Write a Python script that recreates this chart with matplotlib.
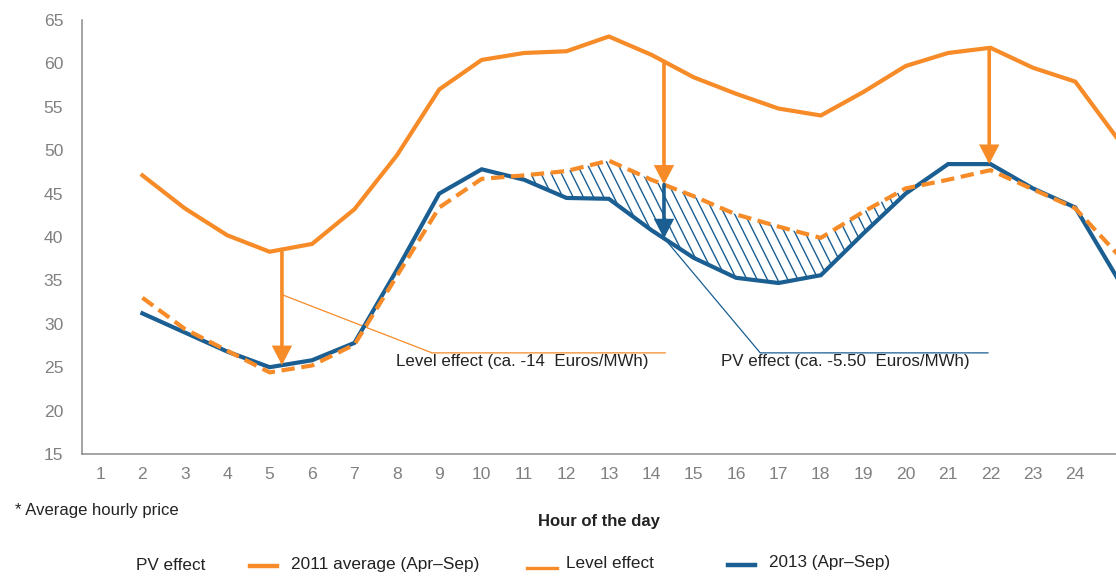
import numpy as np
import matplotlib
matplotlib.use("Agg")
import matplotlib.pyplot as plt
from matplotlib.collections import LineCollection
from matplotlib.transforms import IdentityTransform
from matplotlib.lines import Line2D

plt.rcParams['font.family'] = ['Liberation Sans', 'DejaVu Sans']

# ---------------- data ----------------
hours = np.arange(2, 26)  # hour 25 only continues the lines past the right edge
avg_2011 = [47.1, 43.3, 40.2, 38.3, 39.2, 43.2, 49.4, 57.0, 60.4, 61.2, 61.4, 63.1,
            61.0, 58.4, 56.5, 54.8, 54.0, 56.7, 59.7, 61.2, 61.8, 59.5, 57.9, 51.3]
level_2011 = [33.0, 29.4, 26.9, 24.4, 25.2, 27.6, 35.5, 43.4, 46.7, 47.1, 47.6, 48.8,
              46.6, 44.7, 42.6, 41.2, 39.9, 42.9, 45.6, 46.6, 47.7, 45.5, 43.3, 38.0]
y_2013 = [31.2, 29.0, 26.8, 25.0, 25.8, 27.8, 36.2, 45.0, 47.8, 46.6, 44.5, 44.4,
          40.8, 37.6, 35.3, 34.7, 35.6, 40.4, 45.0, 48.4, 48.4, 45.6, 43.4, 35.2]
x_ticks = list(range(1, 25))
y_ticks = list(range(15, 70, 5))
pv_window = (10, 21)            # hours where the PV effect area is shaded
level_arrow_hours = [5.29, 21.97]
pv_arrow_hour = 14.3

orange = '#F68B28'
blue = '#1A5E92'
gray = '#808080'
txt = '#222222'

hours_a = np.array(hours, float)
a11 = np.array(avg_2011)
l11 = np.array(level_2011)
b13 = np.array(y_2013)

W, H = 1116, 576
fig = plt.figure(figsize=(W / 100, H / 100), dpi=100)
ax = fig.add_axes([82 / W, 1 - 454 / H, (W - 82) / W, (454 - 20) / H])
ax.set_xlim(0.575, 24.96)
ax.set_ylim(15, 65)

for s in ['top', 'right']:
    ax.spines[s].set_visible(False)
for s in ['left', 'bottom']:
    ax.spines[s].set_color('#8a8a8a')
    ax.spines[s].set_linewidth(1.1)
ax.set_xticks(x_ticks)
ax.set_yticks(y_ticks)
ax.tick_params(axis='both', length=0, labelcolor=gray, labelsize=12.6)
ax.tick_params(axis='x', pad=9.5)
ax.tick_params(axis='y', pad=13.5)

# ---------------- PV effect hatched area ----------------
mask = (l11 >= b13) & (hours_a >= pv_window[0]) & (hours_a <= pv_window[1])
poly = ax.fill_between(hours_a, l11, b13, where=mask, interpolate=True,
                       facecolor='none', edgecolor='none', linewidth=0)
clip_path = poly.get_paths()[0]
segs = []
step = 10.2
for c in np.arange(-H, W + H, step):
    segs.append([(c, H), (c + H / 2.0, 0)])
lc = LineCollection(segs, colors=blue, linewidths=1.0, transform=IdentityTransform())
lc.set_clip_path(clip_path, ax.transData)
ax.add_collection(lc, autolim=False)

# ---------------- lines ----------------
ax.plot(hours_a, a11, color=orange, lw=3.0, solid_joinstyle='miter', zorder=3)
ax.plot(hours_a, b13, color=blue, lw=3.0, solid_joinstyle='miter', zorder=3)
ax.plot(hours_a, l11, color=orange, lw=3.0, dashes=(3.2, 1.6), zorder=4)

# ---------------- arrows ----------------
def arrow(x, y0, y1, color, z=5):
    ax.annotate('', xy=(x, y1), xytext=(x, y0),
                arrowprops=dict(arrowstyle='-|>,head_length=0.5,head_width=0.26',
                                color=color, lw=2.6, shrinkA=0, shrinkB=0,
                                mutation_scale=20, joinstyle='miter'),
                zorder=z)

for hx in level_arrow_hours:
    arrow(hx, np.interp(hx, hours_a, a11), np.interp(hx, hours_a, b13), orange)
arrow(pv_arrow_hour, np.interp(pv_arrow_hour, hours_a, a11),
      np.interp(pv_arrow_hour, hours_a, l11), orange)
arrow(pv_arrow_hour, np.interp(pv_arrow_hour, hours_a, l11),
      np.interp(pv_arrow_hour, hours_a, b13), blue)

# ---------------- leader lines & labels ----------------
ax.plot([5.32, 8.83, 14.33], [33.3, 26.65, 26.65], color=orange, lw=0.9, zorder=2)
ax.plot([14.4, 16.57, 21.94], [39.3, 26.65, 26.65], color=blue, lw=0.9, zorder=2)
ax.text(7.98, 25.6, 'Level effect (ca. -14  Euros/MWh)', ha='left', va='center',
        fontsize=12.2, color=txt)
ax.text(15.65, 25.6, 'PV effect (ca. -5.50  Euros/MWh)', ha='left', va='center',
        fontsize=12.2, color=txt)

# ---------------- footnote, axis title ----------------
fig.text(15 / W, 1 - 511 / H, '* Average hourly price', ha='left', va='center',
         fontsize=12, color=txt)
fig.text(599 / W, 1 - 521.5 / H, 'Hour of the day', ha='center', va='center',
         fontsize=12, fontweight='bold', color=txt)

# ---------------- legend ----------------
def fx(x):
    return x / W

def fy(y):
    return 1 - y / H

fig.text(fx(136), fy(565), 'PV effect', ha='left', va='center', fontsize=12.3, color=txt)
fig.add_artist(Line2D([fx(250), fx(277)], [fy(566), fy(566)], color=orange, lw=3.2))
fig.text(fx(291), fy(565), '2011 average (Apr–Sep)', ha='left', va='center',
         fontsize=12.4, color=txt)
fig.add_artist(Line2D([fx(527), fx(557)], [fy(568), fy(568)], color=orange, lw=2.4))
fig.text(fx(566), fy(563), 'Level effect', ha='left', va='center', fontsize=12.3, color=txt)
fig.add_artist(Line2D([fx(728), fx(755)], [fy(565), fy(565)], color=blue, lw=3.2))
fig.text(fx(769), fy(563), '2013 (Apr–Sep)', ha='left', va='center', fontsize=12.3, color=txt)

fig.savefig('out.png', dpi=100)
